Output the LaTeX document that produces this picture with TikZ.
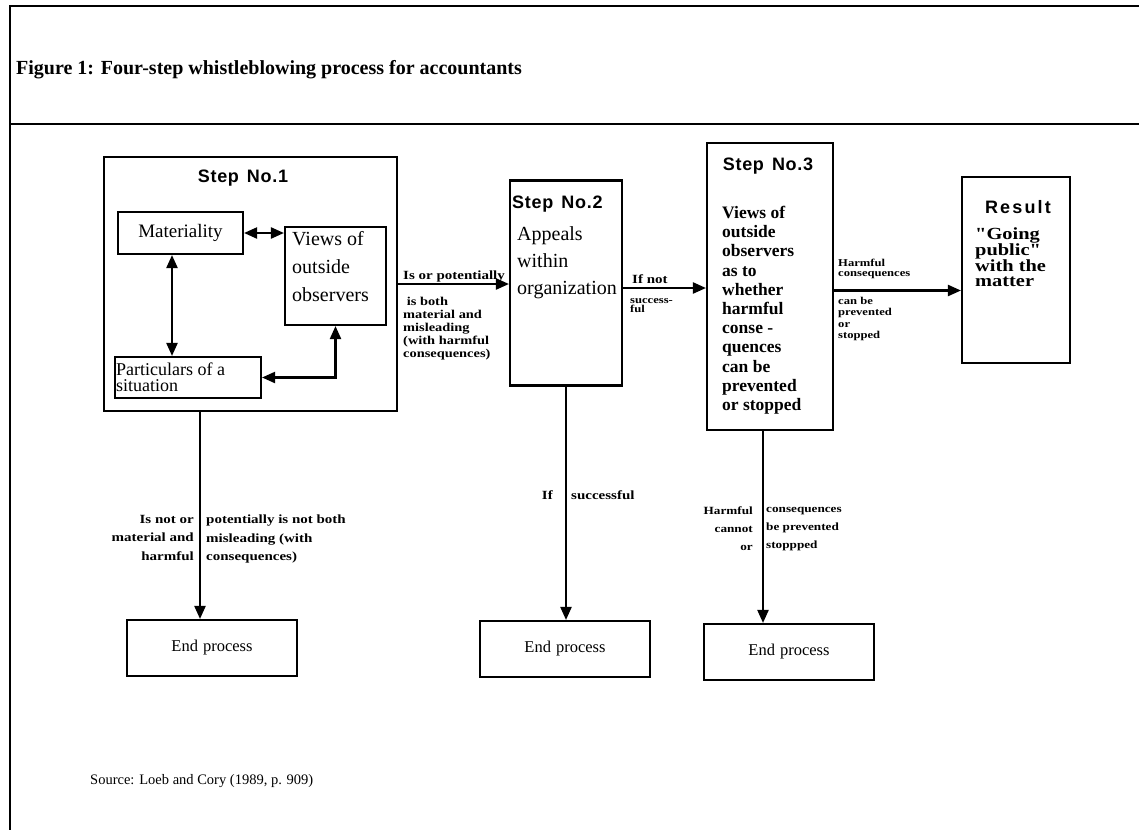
\documentclass[tikz,border=0pt]{standalone}
\usepackage{fontspec}
\setmainfont{Liberation Serif}
\newfontfamily\stepfont[LetterSpace=4]{Liberation Sans}
\newfontfamily\widebf[FakeStretch=1.2]{Liberation Serif}
\usetikzlibrary{arrows.meta}
\begin{document}
\begin{tikzpicture}[x=1pt,y=-1pt,
  frame/.style={line width=2pt},
  box/.style={draw, line width=2.1pt, inner sep=0pt},
  arr/.style={line width=2.2pt, -{Triangle[length=13pt,width=11pt]}},
  darr/.style={line width=2.2pt, {Triangle[length=13pt,width=11pt]}-{Triangle[length=13pt,width=11pt]}},
  txt/.style={inner sep=0pt, align=left},
  lbl/.style={inner sep=0pt, align=left, font=\widebf\bfseries\fontsize{12.5}{13}\selectfont},
  lblr/.style={inner sep=0pt, align=right, font=\widebf\bfseries\fontsize{12.5}{18.5}\selectfont},
  lbll/.style={inner sep=0pt, align=left, font=\widebf\bfseries\fontsize{12.5}{18.5}\selectfont},
  tiny/.style={inner sep=0pt, align=left, font=\widebf\bfseries\fontsize{10.5}{9.5}\selectfont},
  steplbl/.style={inner sep=0pt, font=\stepfont\bfseries\fontsize{18}{20}\selectfont},
  endbox/.style={box, minimum width=170, minimum height=56, font=\fontsize{16.5}{18}\selectfont}]
\useasboundingbox (0,0) rectangle (1139,830);
% frame
\draw[frame] (1139,6) -- (10,6) -- (10,830);
\draw[frame] (10,124) -- (1139,124);
\node[txt, anchor=base west, font=\bfseries\fontsize{20}{22}\selectfont] (title) at (16,74) {Figure 1: Four-step whistleblowing process for accountants};
\node[txt, anchor=base west, font=\fontsize{14.5}{17}\selectfont] (source) at (90,784) {Source: Loeb and Cory (1989, p. 909)};

% Step 1
\node[box, minimum width=293, minimum height=254] (s1) at (250.5,284) {};
\node[steplbl] (s1t) at (243,178) {Step\hspace{8pt}No.1};
\node[box, minimum width=125, minimum height=42, font=\fontsize{19}{20}\selectfont] (mat) at (180.5,233) {Materiality};
\node[box, minimum width=101, minimum height=98] (views) at (335.5,276) {};
\node[txt, anchor=north west, font=\fontsize{20}{28}\selectfont] (viewst) at (292,231) {Views of\\outside\\observers};
\node[box, minimum width=146, minimum height=41] (part) at (188,377.5) {};
\node[txt, anchor=west, font=\fontsize{18}{16.5}\selectfont] (partt) at (116,377) {Particulars of a\\situation};
\coordinate (mx) at (172,0);
\draw[darr] (mat.east) -- (views.west |- mat.east);
\draw[darr] (mx |- mat.south) -- (mx |- part.north);
\draw[darr] (views.south) |- (part.east);

% Step 2
\node[box, minimum width=112, minimum height=205] (s2) at (566,283) {};
\node[steplbl, anchor=west] (s2t) at (512,204) {Step\hspace{8pt}No.2};
\node[txt, anchor=north west, font=\fontsize{20}{27}\selectfont] (s2x) at (517,226) {Appeals\\within\\organization};

% Step 3
\node[box, minimum width=126, minimum height=287] (s3) at (770,286.5) {};
\node[steplbl] (s3t) at (768,166) {Step\hspace{8pt}No.3};
\node[txt, anchor=north west, font=\bfseries\fontsize{17.5}{19.2}\selectfont] (s3x) at (722,206) {Views of\\outside\\observers\\as to\\whether\\harmful\\conse -\\quences\\can be\\prevented\\or stopped};

% Result
\node[box, minimum width=108, minimum height=186] (res) at (1016,270) {};
\node[steplbl, font=\stepfont\bfseries\addfontfeature{LetterSpace=12}\fontsize{18}{20}\selectfont] (rest) at (1018,207) {Result};
\node[txt, anchor=north west, font=\widebf\bfseries\fontsize{17}{15}\selectfont] (resx) at (975,227) {"Going\\public"\\with the\\matter};

% End boxes
\node[endbox] (e1) at (212,648) {End\hspace{5pt}process};
\node[endbox] (e2) at (565,649) {End\hspace{5pt}process};
\node[endbox] (e3) at (789,652) {End\hspace{5pt}process};

% horizontal connectors
\draw[arr] (s1.east) -- (s2.west |- s1.east);
\coordinate (s2r) at ([yshift=-5pt]s2.east);
\draw[arr] (s2r) -- (s3.west |- s2r);
\coordinate (s3r) at ([yshift=-4pt]s3.east);
\draw[arr] (s3r) -- (res.west |- s3r);
% vertical connectors
\coordinate (d1) at (200,0);
\coordinate (d3) at (763,0);
\draw[arr] (d1 |- s1.south) -- (d1 |- e1.north);
\draw[arr] (s2.south) -- (s2.south |- e2.north);
\draw[arr] (d3 |- s3.south) -- (d3 |- e3.north);

% labels
\node[lbl, anchor=base west] (l1a) at (403,279) {Is or potentially};
\node[lbl, font=\widebf\bfseries\fontsize{12}{13}\selectfont, anchor=north west] (l1b) at (403,297) {\ is both\\material and\\misleading\\(with harmful\\consequences)};
\node[lbl, anchor=base west] (l2a) at (632,283) {If not};
\node[tiny, anchor=north west] (l2b) at (630,298) {success-\\ful};
\node[tiny, anchor=base west] (l3a) at (838,276) {Harmful\\consequences};
\node[tiny, font=\widebf\bfseries\fontsize{10.5}{11.3}\selectfont, anchor=north west] (l3b) at (838,297) {can be\\prevented\\or\\stopped};
\node[lblr, anchor=north east] (l4a) at (194,515) {Is not or\\material and\\harmful};
\node[lbll, anchor=north west] (l4b) at (206,515) {potentially is not both\\misleading (with\\consequences)};
\node[lbl, anchor=base east] (l5a) at (553,499) {If};
\node[lbl, anchor=base west] (l5b) at (571,499) {successful};
\node[lblr, font=\widebf\bfseries\fontsize{11}{18}\selectfont, anchor=north east] (l6a) at (753,507) {Harmful\\cannot\\or};
\node[lbll, font=\widebf\bfseries\fontsize{11}{18}\selectfont, anchor=north west] (l6b) at (766,507) {consequences\\be prevented\\stoppped};
\end{tikzpicture}
\end{document}
